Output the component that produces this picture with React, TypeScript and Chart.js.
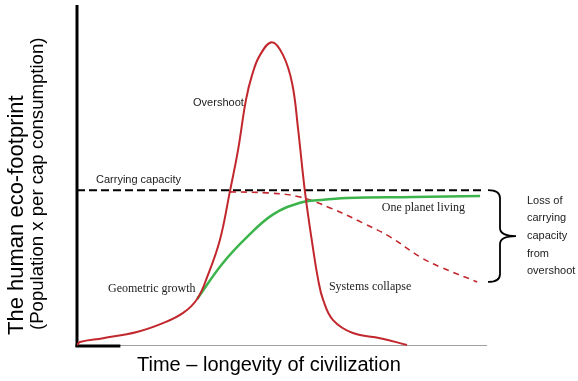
import React, { useEffect, useRef } from "react";
import { Chart, registerables } from "chart.js";

Chart.register(...registerables);

// Overshoot-and-collapse path (red solid)
const overshootX = [0, 0.7, 6.3, 14.5, 20.8, 25.7, 29.1, 31.5, 34.6, 37.0, 39.0, 40.9, 42.4, 44.3, 47.2, 49.9, 52.1, 53.5, 55.2, 57.1, 58.4, 59.6, 62.0, 66.8, 73.4, 79.9];
const overshootY = [0.3, 1.2, 2.3, 4.1, 6.7, 9.7, 13.8, 20.2, 31.1, 45.2, 57.5, 72.1, 79.5, 85.3, 89.1, 85.3, 77.0, 64.0, 45.2, 29.0, 19.4, 13.5, 7.6, 3.8, 2.3, 0.3];

// One planet living path (green)
const onePlanetX = [29.1, 35.1, 41.2, 47.5, 54.0, 58.8, 65.4, 81.4, 97.6];
const onePlanetY = [13.8, 24.0, 32.0, 38.6, 42.0, 42.8, 43.4, 43.7, 44.0];

// Degraded carrying capacity (red dashed)
const degradedX = [37.0, 46.0, 54.0, 61.3, 69.2, 75.8, 83.1, 87.9, 96.9];
const degradedY = [45.2, 44.9, 43.7, 40.5, 36.1, 32.0, 26.1, 23.2, 18.8];

// Carrying capacity (black dashed)
const capacityX = [0, 98.3];
const capacityY = [45.7, 45.7];

const yTitleLines = ["The human eco-footprint", "(Population x per cap consumption)"];
const xTitle = "Time \u2013 longevity of civilization";
const braceLines = ["Loss of", "carrying", "capacity", "from", "overshoot"];

const labelTexts = ["Carrying capacity", "Overshoot", "Geometric growth", "Systems collapse", "One planet living"];

const RED = "#c1272d";
const GREEN = "#3cb44b";

const pts = (xs: number[], ys: number[]) => xs.map((x, i) => ({ x, y: ys[i] }));

const SANS = '"Liberation Sans", Arial, sans-serif';
const SERIF = '"Liberation Serif", "Times New Roman", serif';

const decorPlugin = {
  id: "decor",
  beforeDatasetsDraw(chart: any) {
    const { ctx, scales } = chart;
    const xs = scales.x;
    const ys = scales.y;
    const x0 = xs.getPixelForValue(0);
    const yb = ys.getPixelForValue(0);
    ctx.save();
    ctx.strokeStyle = "#a0a0a0";
    ctx.lineWidth = 1;
    ctx.beginPath();
    ctx.moveTo(x0, yb - 0.5);
    ctx.lineTo(xs.getPixelForValue(99.3), yb - 0.5);
    ctx.stroke();
    ctx.strokeStyle = "#000";
    ctx.lineWidth = 3;
    ctx.beginPath();
    ctx.moveTo(x0, ys.top);
    ctx.lineTo(x0, yb + 1);
    ctx.stroke();
    ctx.beginPath();
    ctx.moveTo(x0 - 1.5, yb);
    ctx.lineTo(xs.getPixelForValue(10.5), yb);
    ctx.stroke();
    ctx.restore();
  },
  afterDatasetsDraw(chart: any) {
    const { ctx, scales } = chart;
    const xs = scales.x;
    const ys = scales.y;
    const X = (v: number) => xs.getPixelForValue(v);
    const Y = (v: number) => ys.getPixelForValue(v);
    ctx.save();

    const labels = [
      { t: labelTexts[0], x: 4.6, y: 48.7, f: `11px ${SANS}` },
      { t: labelTexts[1], x: 28.1, y: 71.3, f: `11px ${SANS}` },
      { t: labelTexts[2], x: 7.5, y: 16.7, f: `12px ${SERIF}` },
      { t: labelTexts[3], x: 61.0, y: 17.3, f: `12px ${SERIF}` },
      { t: labelTexts[4], x: 73.8, y: 40.5, f: `12px ${SERIF}` },
    ];
    ctx.fillStyle = "#222";
    ctx.textAlign = "left";
    ctx.textBaseline = "middle";
    labels.forEach((l) => {
      ctx.font = l.f;
      ctx.fillText(l.t, X(l.x), Y(l.y));
    });

    const top = Y(capacityY[0]);
    const bottom = Y(degradedY[degradedY.length - 1]);
    const mid = (top + bottom) / 2;
    const bx = xs.right - 2;
    const vx = bx + 12;
    const tip = bx + 28;
    const r = 8;
    ctx.strokeStyle = "#000";
    ctx.lineWidth = 1.8;
    ctx.beginPath();
    ctx.moveTo(bx, top);
    ctx.quadraticCurveTo(vx, top, vx, top + r);
    ctx.lineTo(vx, mid - r);
    ctx.quadraticCurveTo(vx, mid, tip, mid);
    ctx.quadraticCurveTo(vx, mid, vx, mid + r);
    ctx.lineTo(vx, bottom - r);
    ctx.quadraticCurveTo(vx, bottom, bx, bottom);
    ctx.stroke();

    ctx.font = `11px ${SANS}`;
    ctx.fillStyle = "#222";
    braceLines.forEach((t, i) => {
      ctx.fillText(t, bx + 39, mid + (i - 2) * 17.6);
    });

    ctx.fillStyle = "#000";
    ctx.save();
    ctx.translate(17, 335);
    ctx.rotate(-Math.PI / 2);
    ctx.font = `22px ${SANS}`;
    ctx.textBaseline = "middle";
    ctx.fillText(yTitleLines[0], 0, 0);
    ctx.restore();
    ctx.save();
    ctx.translate(37.5, 330);
    ctx.rotate(-Math.PI / 2);
    ctx.font = `18.6px ${SANS}`;
    ctx.textBaseline = "middle";
    ctx.fillText(yTitleLines[1], 0, 0);
    ctx.restore();

    ctx.font = `20px ${SANS}`;
    ctx.textBaseline = "alphabetic";
    ctx.fillText(xTitle, 137, 371);

    ctx.restore();
  },
};

export default function App() {
  const ref = useRef<HTMLCanvasElement | null>(null);
  useEffect(() => {
    if (!ref.current) return;
    const chart = new Chart(ref.current, {
      type: "line",
      data: {
        datasets: [
          {
            label: "Overshoot",
            data: pts(overshootX, overshootY),
            borderColor: RED,
            borderWidth: 2,
            pointRadius: 0,
            tension: 0.4,
            fill: false,
          },
          {
            label: "One planet living",
            data: pts(onePlanetX, onePlanetY),
            borderColor: GREEN,
            borderWidth: 2.5,
            pointRadius: 0,
            tension: 0.4,
            fill: false,
          },
          {
            label: "Degraded capacity",
            data: pts(degradedX, degradedY),
            borderColor: RED,
            borderWidth: 1.6,
            borderDash: [6, 5],
            pointRadius: 0,
            tension: 0.4,
            fill: false,
          },
          {
            label: "Carrying capacity",
            data: pts(capacityX, capacityY),
            borderColor: "#000",
            borderWidth: 2,
            borderDash: [8, 4],
            pointRadius: 0,
            fill: false,
          },
        ],
      },
      options: {
        responsive: false,
        animation: false,
        events: [],
        layout: { padding: { left: 77, right: 88, top: 5, bottom: 35 } },
        plugins: { legend: { display: false }, tooltip: { enabled: false } },
        scales: {
          x: { type: "linear", min: 0, max: 100, display: false },
          y: { type: "linear", min: 0, max: 100, display: false },
        },
      },
      plugins: [decorPlugin],
    } as any);
    return () => chart.destroy();
  }, []);
  return (
    <div style={{ position: "fixed", left: 0, top: 0, width: 578, height: 381, background: "#fff" }}>
      <canvas ref={ref} width={578} height={381} />
    </div>
  );
}
